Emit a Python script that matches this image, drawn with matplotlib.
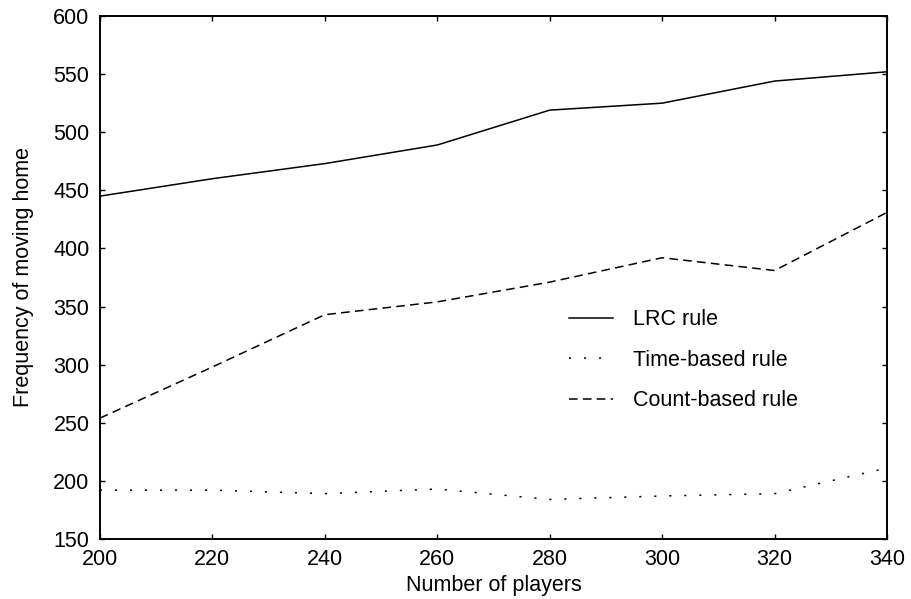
import matplotlib
matplotlib.use("Agg")
import matplotlib.pyplot as plt

plt.rcParams['font.family'] = ['Liberation Sans', 'DejaVu Sans']
plt.rcParams['font.size'] = 15.5
plt.rcParams['lines.scale_dashes'] = False

# data
players = [200, 220, 240, 260, 280, 300, 320, 340]
lrc_rule = [445, 460, 473, 489, 519, 525, 544, 552]
time_rule = [192, 192, 189, 193, 184, 187, 189, 211]
count_rule = [254, 298, 343, 354, 371, 392, 381, 431]

fig = plt.figure(figsize=(9.12, 5.99), dpi=100)
ax = fig.add_axes([0.1096, 0.1002, 0.8630, 0.8731])

ax.plot(players, lrc_rule, color='black', lw=1.1, linestyle='-', label='LRC rule')
ax.plot(players, time_rule, color='black', lw=1.1, linestyle=(0, (1.5, 9.3)),
        label='Time-based rule')
ax.plot(players, count_rule, color='black', lw=1.1, linestyle=(0, (6.2, 3.8)),
        label='Count-based rule')

ax.set_xlim(200, 340)
ax.set_ylim(150, 600)
ax.set_xticks(range(200, 341, 20))
ax.set_yticks(range(150, 601, 50))
ax.tick_params(direction='in', length=3.6, width=1.0, top=True, right=True,
               labelsize=15.5)
ax.tick_params(axis='x', pad=7.5)
ax.tick_params(axis='y', pad=7.5)
for sp in ax.spines.values():
    sp.set_linewidth(1.4)

ax.set_xlabel('Number of players', fontsize=15.5, labelpad=3)
ax.set_ylabel('Frequency of moving home', fontsize=15.5, labelpad=14)

ax.legend(loc='upper left', bbox_to_anchor=(0.596, 0.439), frameon=False,
          borderpad=0, borderaxespad=0, handlelength=2.05, handletextpad=0.93,
          labelspacing=0.9, fontsize=15.5)

fig.savefig('out.png', dpi=100)
